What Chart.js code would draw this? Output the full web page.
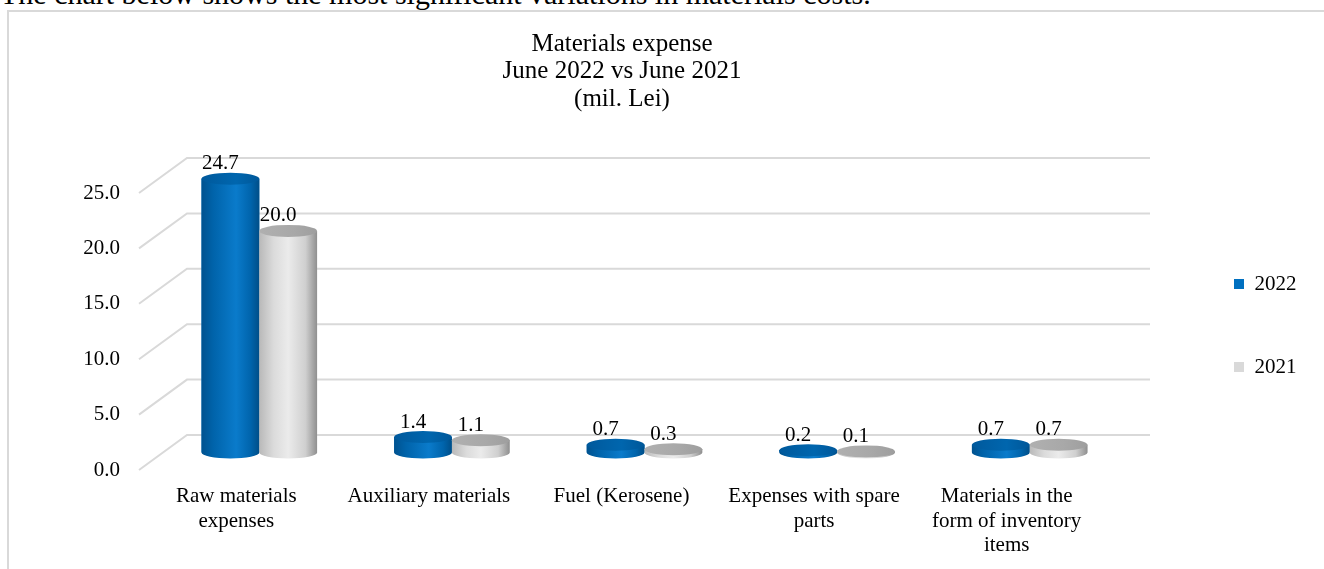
<!DOCTYPE html>
<html>
<head>
<meta charset="utf-8">
<script src="https://cdn.jsdelivr.net/npm/chart.js@4.4.0/dist/chart.umd.min.js"></script>
<style>
  html, body { margin: 0; padding: 0; background: #fff; overflow: hidden; }
  body { width: 1324px; height: 569px; position: relative; }
  #intro { position: absolute; left: 0; top: -21px; font: 30px 'Liberation Serif', 'Times New Roman', serif; line-height: 30px; white-space: nowrap; color: #000; }
  #frame { position: absolute; left: 7px; top: 10px; width: 1400px; height: 600px; border: 2px solid #d9d9d9; }
  #chartCanvas { position: absolute; left: 0; top: 0; }
</style>
</head>
<body>
<div id="intro">The chart below shows the most significant variations in materials costs.</div>
<div id="frame"></div>
<canvas id="chartCanvas" width="1324" height="569"></canvas>
<script>
const categories = [
  ['Raw materials', 'expenses'],
  ['Auxiliary materials'],
  ['Fuel (Kerosene)'],
  ['Expenses with spare', 'parts'],
  ['Materials in the', 'form of inventory', 'items']
];
const values2022 = [24.7, 1.4, 0.7, 0.2, 0.7];
const values2021 = [20.0, 1.1, 0.3, 0.1, 0.7];
const seriesNames = ['2022', '2021'];
const yTicks = [0, 5, 10, 15, 20, 25];
const titleLines = ['Materials expense', 'June 2022 vs June 2021', '(mil. Lei)'];

const serif = "'Liberation Serif', 'Times New Roman', serif";
const depthX = 24, depthY = 17.5;

// fake 3D: back wall grid, cylinders, labels, title
const cylinders = {
  id: 'cylinders',
  beforeDatasetsDraw(chart) {
    const { ctx, chartArea: a } = chart;
    const ys = chart.scales.y;
    ctx.save();
    ctx.strokeStyle = '#d9d9d9';
    ctx.lineWidth = 2;
    ys.ticks.forEach(t => {
      const py = ys.getPixelForValue(t.value);
      ctx.beginPath();
      ctx.moveTo(a.left - depthX, py + depthY);
      ctx.lineTo(a.left + depthX, py - depthY);
      ctx.lineTo(a.right + depthX, py - depthY);
      ctx.stroke();
    });
    ctx.restore();
  },
  afterDatasetsDraw(chart) {
    const ctx = chart.ctx;
    const looks = [
      { body: [[0, '#00528f'], [0.2, '#0063aa'], [0.6, '#0a7bcb'], [0.85, '#0064ac'], [1, '#004e88']],
        top: [[0, '#00599c'], [0.6, '#0066ae'], [1, '#005799']] },
      { body: [[0, '#b9b9b9'], [0.25, '#dbdbdb'], [0.5, '#ebebeb'], [0.8, '#cfcfcf'], [1, '#8f8f8f']],
        top: [[0, '#b0b0b0'], [0.6, '#a8a8a8'], [1, '#9e9e9e']] }
    ];
    ctx.save();
    chart.data.datasets.forEach((ds, di) => {
      const look = looks[di];
      chart.getDatasetMeta(di).data.forEach(bar => {
        const { x, y, base, width } = bar.getProps(['x', 'y', 'base', 'width'], true);
        const rx = width / 2, ry = 6;
        const g = ctx.createLinearGradient(x - rx, 0, x + rx, 0);
        look.body.forEach(s => g.addColorStop(s[0], s[1]));
        ctx.beginPath();
        ctx.moveTo(x - rx, y);
        ctx.lineTo(x - rx, base);
        ctx.ellipse(x, base, rx, ry, 0, Math.PI, 0, true);
        ctx.lineTo(x + rx, y);
        ctx.closePath();
        ctx.fillStyle = g;
        ctx.fill();
        const gt = ctx.createLinearGradient(x - rx, 0, x + rx, 0);
        look.top.forEach(s => gt.addColorStop(s[0], s[1]));
        ctx.beginPath();
        ctx.ellipse(x, y, rx, ry, 0, 0, Math.PI * 2);
        ctx.fillStyle = gt;
        ctx.fill();
      });
    });
    ctx.fillStyle = '#000';
    ctx.font = '21px ' + serif;
    ctx.textAlign = 'center';
    ctx.textBaseline = 'middle';
    chart.data.datasets.forEach((ds, di) => {
      chart.getDatasetMeta(di).data.forEach((bar, i) => {
        ctx.fillText(ds.data[i].toFixed(1), bar.x - 10, bar.y - 15);
      });
    });
    ctx.restore();
  },
  afterDraw(chart) {
    const ctx = chart.ctx;
    ctx.save();
    ctx.fillStyle = '#000';
    ctx.font = '25px ' + serif;
    ctx.textAlign = 'center';
    ctx.textBaseline = 'alphabetic';
    titleLines.forEach((t, i) => ctx.fillText(t, 622, 51 + i * 27.3));
    ctx.restore();
  }
};

const ctx = document.getElementById('chartCanvas').getContext('2d');
new Chart(ctx, {
  type: 'bar',
  data: {
    labels: categories,
    datasets: [
      { label: seriesNames[0], data: values2022, backgroundColor: '#0070C0', borderWidth: 0 },
      { label: seriesNames[1], data: values2021, backgroundColor: '#D9D9D9', borderWidth: 0 }
    ]
  },
  options: {
    responsive: false,
    animation: false,
    events: [],
    layout: { padding: { top: 175.5, right: 17.5, bottom: 0, left: 0 } },
    datasets: { bar: { categoryPercentage: 0.6, barPercentage: 1.0 } },
    scales: {
      x: {
        grid: { display: false, drawTicks: false },
        border: { display: false },
        ticks: {
          padding: 32, labelOffset: -23, color: '#000', maxRotation: 0, autoSkip: false,
          font: { family: serif, size: 21, lineHeight: 1.17 }
        },
        afterFit: s => { s.height = 116.5; }
      },
      y: {
        min: 0, max: 25,
        grid: { display: false, drawTicks: false },
        border: { display: false },
        afterBuildTicks: s => { s.ticks = yTicks.map(v => ({ value: v })); },
        ticks: {
          padding: 43, labelOffset: depthY, color: '#000',
          font: { family: serif, size: 21 },
          callback: v => Number(v).toFixed(1)
        },
        afterFit: s => { s.width = 163; }
      },
      y2: {
        position: 'right',
        grid: { display: false, drawTicks: false },
        border: { display: false },
        ticks: { display: false },
        afterFit: s => { s.width = 46; }
      }
    },
    plugins: {
      title: { display: false },
      tooltip: { enabled: false },
      legend: {
        position: 'right',
        fullSize: false,
        align: 'center',
        title: { display: true, text: ' ', padding: 0, font: { size: 19, lineHeight: '23px' } },
        labels: {
          boxWidth: 10, boxHeight: 10, padding: 62, color: '#000',
          font: { family: serif, size: 21 }
        }
      }
    }
  },
  plugins: [cylinders]
});
</script>
</body>
</html>
